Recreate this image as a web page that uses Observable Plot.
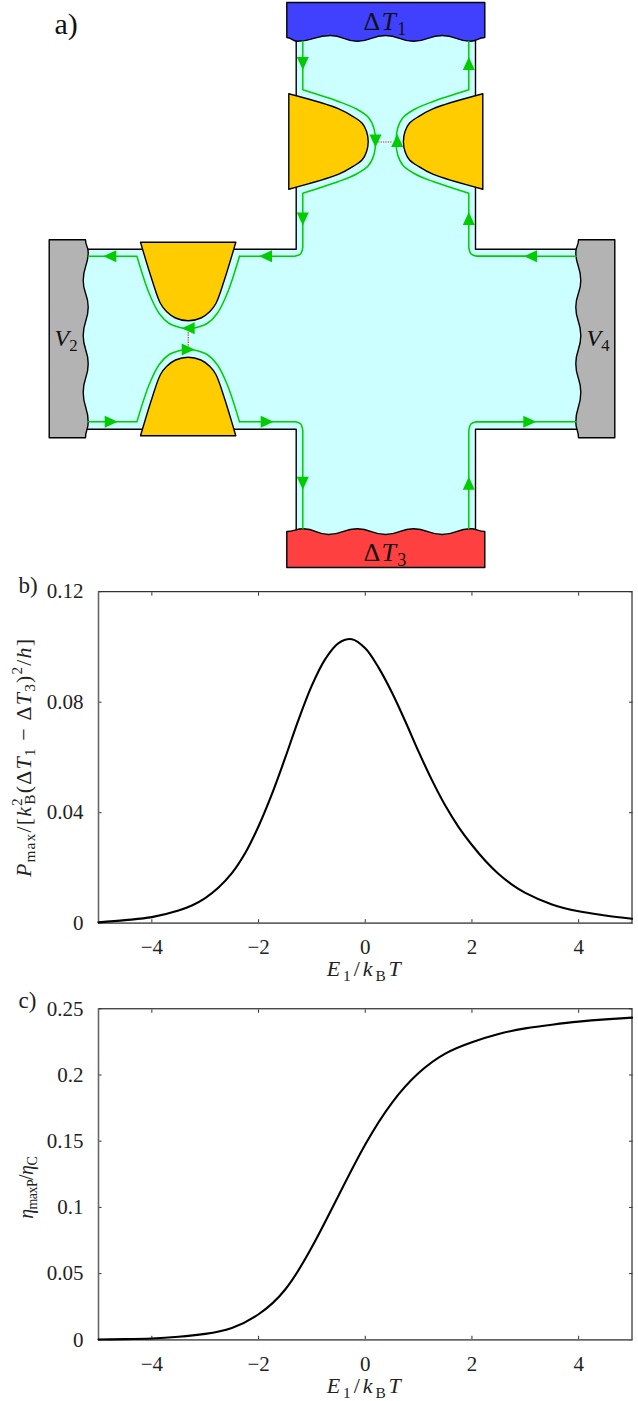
<!DOCTYPE html>
<html>
<head>
<meta charset="utf-8">
<style>
html,body{margin:0;padding:0;background:#fff;overflow:hidden}
svg{display:block}
</style>
<script src="https://cdn.jsdelivr.net/npm/d3@7"></script>
<script src="https://cdn.jsdelivr.net/npm/@observablehq/plot@0.6"></script>
</head>
<body>
<div id="chart"></div>
<script>
// ---------- panel b data ----------
const powerE = [-5,-4.5,-4,-3.5,-3.25,-3,-2.75,-2.5,-2.25,-2,-1.75,-1.5,-1.25,-1,-0.75,-0.5,-0.25,0,0.25,0.5,0.75,1,1.25,1.5,1.75,2,2.25,2.5,2.75,3,3.5,4,4.5,5];
const powerP = [0.0003,0.0011,0.0022,0.0046,0.0064,0.0091,0.0129,0.0181,0.0254,0.0351,0.0467,0.0599,0.0737,0.0861,0.0956,0.1014,0.1028,0.0995,0.0925,0.0835,0.0731,0.0621,0.0518,0.0426,0.0348,0.0283,0.0226,0.0178,0.0140,0.0110,0.0068,0.0043,0.0028,0.0016];
// ---------- panel c data ----------
const effE = [-5,-4.5,-4,-3.5,-3,-2.5,-2,-1.5,-1,-0.5,0,0.5,1,1.5,2,2.5,3,3.5,4,4.5,5];
const effEta = [0.0002,0.0005,0.001,0.0023,0.0045,0.009,0.0193,0.038,0.070,0.109,0.1475,0.179,0.2015,0.2162,0.2248,0.231,0.2352,0.238,0.2403,0.242,0.2433];
// ---------- ticks ----------
const xTicks = [-4,-2,0,2,4];
const xTickLabels = ["\u22124","\u22122","0","2","4"];
const bTicks = [0,0.04,0.08,0.12];
const bTickLabels = ["0","0.04","0.08","0.12"];
const cTicks = [0,0.05,0.1,0.15,0.2,0.25];
const cTickLabels = ["0","0.05","0.1","0.15","0.2","0.25"];
// ---------- rich text labels: [text, style] ----------
const labelE = [["E","i"],["1","sub"],["/","r"],["k","i"],["B","sub"],["T","i"]];
const labelP = [["P","i"],["max","sub"],["/[","r"],["k","i"],["2","sup"],["B","subback"],["(\u0394","r"],["T","i"],["1","sub"],[" \u2212 \u0394","r"],["T","i"],["3","sub"],[")","r"],["2","sup"],["/","r"],["h","i"],["]","r"]];
const labelEta = [["\u03B7","i"],["maxP","sub"],["/","r"],["\u03B7","i"],["C","sub"]];
const labelT1 = [["\u0394","r"],["T","i"],["1","sub"]];
const labelT3 = [["\u0394","r"],["T","i"],["3","sub"]];
const labelV2 = [["V","i"],["2","sub"]];
const labelV4 = [["V","i"],["4","sub"]];
const richLabels = [[labelE,77],[labelP,247],[labelEta,62],[labelT1,44],[labelT3,44],[labelV2,23],[labelV4,23]];
// ---------- diagram geometry, in picture units ----------
const crossOutline = [[295.7,20],[475,20],[475,248.7],[596,248.7],[596,428.7],[475,428.7],[475,550],[295.7,550],[295.7,428.7],[68,428.7],[68,248.7],[295.7,248.7],[295.7,20]];
const hotLead = [[286.3,2],[484.3,2],[484.3,37],[470,40.7],[441.7,35],[413,40.7],[385,35],[356.7,40.7],[330,35],[296.7,40.7],[286.3,37],[286.3,2]];
const coldLead = [[286.3,567],[484.3,567],[484.3,531],[470,528.3],[441.7,534],[413,528.3],[385,534],[356.7,528.3],[328,534],[303,528.3],[286.3,531],[286.3,567]];
const leftLead = [[48.7,239.3],[85,239.3],[87.7,251.7],[82.7,280],[87.7,306.7],[82.7,335],[87.7,363.3],[82.7,391.7],[87.7,421.7],[85,437.3],[48.7,437.3],[48.7,239.3]];
const rightLead = leftLead.map(([x,y]) => [663-x,y]);
const gateTopLeft = [[288.3,93.3],[288.3,93.3],[338.3,108.3],[353.3,116.5],[361.7,122.7],[366,130.7],[367.7,141],[366,151.3],[361.7,159.3],[353.3,165.5],[338.3,173.7],[288.3,188.7],[288.3,188.7],[288.3,93.3],[288.3,93.3]];
const gateTopRight = gateTopLeft.map(([x,y]) => [770.6-x,y]);
const gateLeftUpper = [[140,241.7],[140,241.7],[151.7,280],[160,303],[166,311],[175,317.5],[187.7,320.3],[200.4,317.5],[209.4,311],[215.4,303],[223.7,280],[235.3,241.7],[235.3,241.7],[140,241.7],[140,241.7]];
const gateLeftLower = gateLeftUpper.map(([x,y]) => [x,677-y]);
const edgeTopLeft = [[302.3,40.7],[302.3,40.7],[302.3,89.3],[302.3,89.3],[338,101],[356,108.5],[368,117],[373.5,128],[375,141],[373.5,154],[368,165],[356,173.5],[338,181],[302.3,192.7],[302.3,192.7],[302.3,247],[302.3,247],[300,253.5],[294,255.7],[294,255.7],[239,255.7]];
const edgeGateUpper = [[239,255.7],[239,255.7],[226.7,293],[216.7,313],[206.7,323],[197,326.7],[187.7,328.3],[178.4,326.7],[168.7,323],[158.7,313],[148.7,293],[136.4,255.7],[136.4,255.7],[87.7,255.7],[87.7,255.7]];
const edgeGateLower = edgeGateUpper.map(([x,y]) => [x,677-y]);
const edgeBottomLeft = [[239,421.3],[239,421.3],[295,421.3],[295,421.3],[300.2,423.5],[302.3,430],[302.3,430],[302.3,528.3],[302.3,528.3]];
const edgeBottomRight = edgeBottomLeft.map(([x,y]) => [770.6-x,y]);
const edgeRightRun = [[475.6,421.3],[575.7,421.3]];
const edgeTopRight = edgeTopLeft.map(([x,y]) => [770.6-x,y]);
const edgeTopRun = [[476,255.7],[575.7,255.7]];
const tunnelTop = [[377.7,141.5],[391.7,141.5]];
const tunnelLeft = [[187.7,331.7],[187.7,346.7]];
const arrowX = [302.3,468.3,375,396.7,302.3,468.3,265,109.3,187.7,187.7,110.7,266.7,302.3,468.3,530,529.3];
const arrowY = [63,63,140.5,140,218.5,218,255.7,255.7,327.7,349,421.3,421.3,482.7,482.7,255.7,421.3];
const arrowTurn = [180,0,180,0,180,0,270,270,270,90,90,90,180,0,270,90];

// ---------- helpers ----------
const serif = "'Liberation Serif', 'Times New Roman', serif";
const NS = "http://www.w3.org/2000/svg";
const plain = parts => parts.map(p => p[0]).join("");
function enrich(svg) {
  const map = new Map(richLabels.map(([p,w]) => [plain(p), [p,w]]));
  svg.querySelectorAll("text").forEach(t => {
    const hit = map.get(t.textContent);
    if (!hit) return;
    const [parts, width] = hit;
    const base = parseFloat(getComputedStyle(t).fontSize) || 20;
    t.textContent = "";
    let shift = 0;
    parts.forEach(([s, style]) => {
      const span = document.createElementNS(NS, "tspan");
      span.textContent = s;
      let target = 0, size = base;
      if (style === "i") span.setAttribute("font-style", "italic");
      if (style === "sub" || style === "subback") { target = base * 0.22; size = base * 0.7; }
      if (style === "sup") { target = -base * 0.38; size = base * 0.7; }
      span.setAttribute("font-size", size);
      span.setAttribute("dy", target - shift);
      if (style === "subback") span.setAttribute("dx", -base * 0.35);
      shift = target;
      t.appendChild(span);
    });
    const len = t.getComputedTextLength();
    t.style.letterSpacing = ((width - len) / plain(parts).length) + "px";
  });
  return svg;
}
const shape = (pts, fill) => Plot.line(pts, {fill, stroke:"#000", strokeWidth:1.4, curve:"catmull-rom"});
const leadShape = (pts, fill, curve) => Plot.line(pts, {fill, stroke:"#000", strokeWidth:1.4, curve});
const edge = pts => Plot.line(pts, {stroke:"#00cc00", strokeWidth:1.5, curve:"catmull-rom"});
const tunnel = pts => Plot.line(pts, {stroke:"#ee1111", strokeWidth:1.2, strokeDasharray:"1.2 1.2", strokeLinecap:"butt"});
const arrowHead = {draw(c){ c.moveTo(0,-6.5); c.lineTo(6,6.5); c.lineTo(-6,6.5); c.closePath(); }};
const label = (parts, x, y, fontSize) => Plot.text([plain(parts)], {x:()=>x, y:()=>y, text:d=>d, fontSize, fill:"#111", lineAnchor:"bottom", fontFamily:serif});
const place = (text, frameAnchor, dx, dy, fontSize, extra={}) => Plot.text([text], {text:d=>d, frameAnchor, dx, dy, fontSize, fill:"#222", lineAnchor:"bottom", fontFamily:serif, textAnchor:"middle", ...extra});

// ---------- panel a ----------
const arrows = arrowX.map((x,i) => ({x, y:arrowY[i], turn:arrowTurn[i]}));
const panelA = Plot.plot({
  width:638, height:570, margin:0,
  x:{domain:[0,638], range:[0,638], axis:null},
  y:{domain:[0,570], range:[0,570], axis:null},
  style:{fontFamily:serif, background:"#fff"},
  marks:[
    Plot.line(crossOutline, {fill:"#ccffff", stroke:"#000", strokeWidth:1.4}),
    leadShape(hotLead, "#4040ff", "bump-x"),
    leadShape(coldLead, "#ff4040", "bump-x"),
    leadShape(leftLead, "#b3b3b3", "bump-y"),
    leadShape(rightLead, "#b3b3b3", "bump-y"),
    shape(gateTopLeft, "#ffcc00"),
    shape(gateTopRight, "#ffcc00"),
    shape(gateLeftUpper, "#ffcc00"),
    shape(gateLeftLower, "#ffcc00"),
    tunnel(tunnelTop),
    tunnel(tunnelLeft),
    edge(edgeTopLeft),
    edge(edgeTopRight),
    edge(edgeGateUpper),
    edge(edgeGateLower),
    edge(edgeBottomLeft),
    edge(edgeBottomRight),
    edge(edgeRightRun),
    edge(edgeTopRun),
    Plot.dot(arrows, {x:"x", y:"y", rotate:"turn", symbol:arrowHead, r:4, fill:"#00cc00", stroke:"none"}),
    label(labelT1, 385, 29, 26),
    label(labelT3, 385, 560, 26),
    label(labelV2, 65.5, 345, 24),
    label(labelV4, 597.5, 345, 24),
    Plot.text(["a)"], {x:()=>54, y:()=>33, text:d=>d, fontSize:30, textAnchor:"start", lineAnchor:"bottom", fill:"#111", fontFamily:serif})
  ]
});

// ---------- panels b, c ----------
function panel({height, marginTop, marginBottom, yDomain, yTicks, yLabels, curveX, curveY, curve, tag, tagDy, yLabel, yLabelDy, yLabelDx, yLabelSize, xLabelDy}) {
  const pts = curveX.map((x,i) => ({x, y:curveY[i]}));
  return Plot.plot({
    width:638, height, marginLeft:98, marginRight:6.5, marginTop, marginBottom,
    x:{domain:[-5,5], axis:null},
    y:{domain:yDomain, axis:null},
    style:{fontFamily:serif, background:"#fff"},
    marks:[
      Plot.frame({stroke:"#000", strokeWidth:1}),
      Plot.axisX({anchor:"bottom", ticks:xTicks, tickSize:-3.5, tickPadding:19.5, tickFormat:(d,i)=>xTickLabels[i], fontSize:21, label:null, stroke:"#333", fill:"#222", fontFamily:serif}),
      Plot.axisX({anchor:"top", ticks:xTicks, tickSize:-3.5, tickFormat:()=>"", label:null, stroke:"#333"}),
      Plot.axisY({anchor:"left", ticks:yTicks, tickSize:-3.5, tickPadding:18.5, tickFormat:(d,i)=>yLabels[i], fontSize:21, label:null, stroke:"#333", fill:"#222", fontFamily:serif}),
      Plot.axisY({anchor:"right", ticks:yTicks, tickSize:-3.5, tickFormat:()=>"", label:null, stroke:"#333"}),
      Plot.ruleX([-5], {stroke:"#666", strokeWidth:1.6}),
      Plot.ruleY([0], {stroke:"#666", strokeWidth:1.6}),
      Plot.line(pts, {x:"x", y:"y", stroke:"#000", strokeWidth:2.1, curve}),
      place(plain(labelE), "bottom", 0, xLabelDy, 22),
      place(plain(yLabel), "left", yLabelDx, yLabelDy, yLabelSize, {rotate:-90}),
      place(tag, "top-left", -80, tagDy, 23, {textAnchor:"start"})
    ]
  });
}
const panelB = panel({height:415, marginTop:21.2, marginBottom:62.3, yDomain:[0,0.12], yTicks:bTicks, yLabels:bTickLabels,
  curveX:powerE, curveY:powerP, curve:"catmull-rom", tag:"b)", tagDy:1, yLabel:labelP, yLabelDy:0, yLabelDx:-68, yLabelSize:22, xLabelDy:53});
const panelC = panel({height:416, marginTop:23.3, marginBottom:61.7, yDomain:[0,0.25], yTicks:cTicks, yLabels:cTickLabels,
  curveX:effE, curveY:effEta, curve:"natural", tag:"c)", tagDy:-1, yLabel:labelEta, yLabelDy:13.5, yLabelDx:-66, yLabelSize:20, xLabelDy:53});

const root = document.getElementById("chart");
[panelA, panelB, panelC].forEach(p => { root.appendChild(p); enrich(p); });
</script>
</body>
</html>
